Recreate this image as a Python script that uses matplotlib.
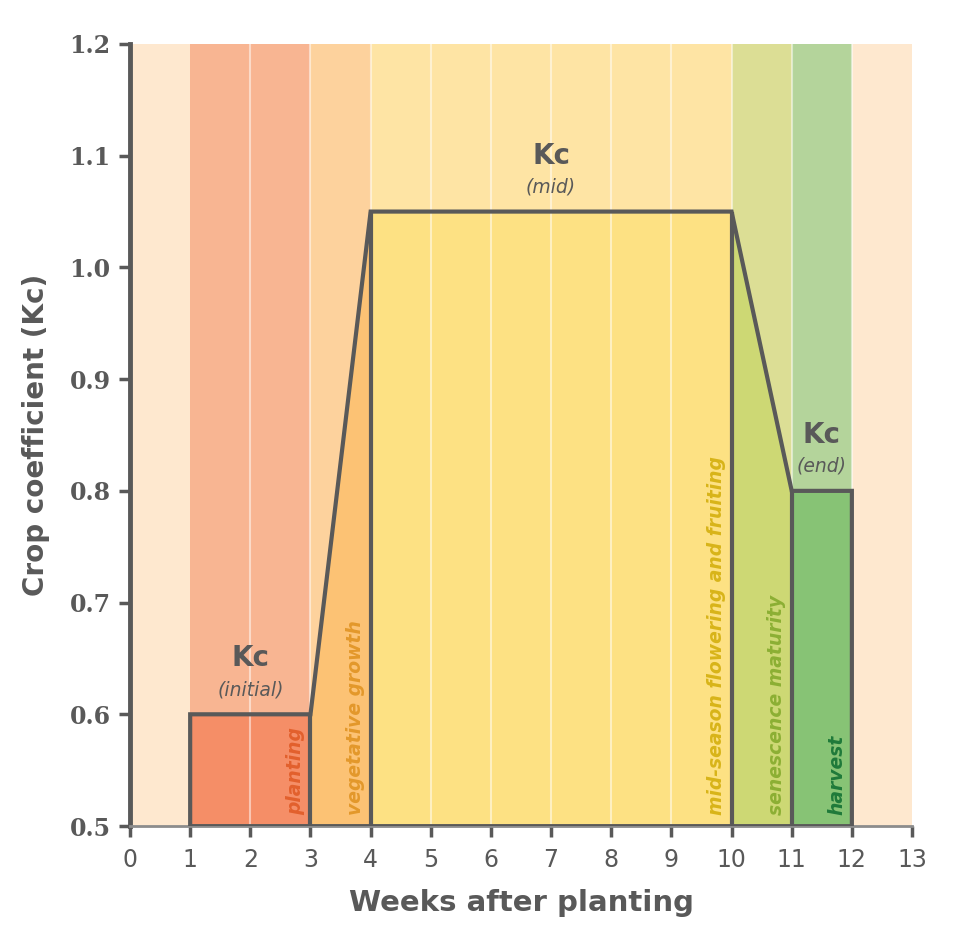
import numpy as np
import matplotlib
matplotlib.use('Agg')
import matplotlib.pyplot as plt
from matplotlib import font_manager

# pick a condensed face if one is installed
cond = None
for f in font_manager.fontManager.ttflist:
    if f.stretch in ('condensed', 'semi-condensed', 'extra-condensed') or \
            'Narrow' in f.name or 'Condensed' in f.name:
        cond = f.name
        break
FONT = ([cond] if cond else []) + ['DejaVu Sans']
plt.rcParams['font.family'] = FONT

# background colour of each week column (0..12)
band_colors = ['#FEE8CF', '#F8B592', '#F8B592', '#FDD29D', '#FEE4A4', '#FEE4A4',
               '#FEE4A4', '#FEE4A4', '#FEE4A4', '#FEE4A4', '#DCDE95', '#B4D49B',
               '#FEE8CF']
weeks = np.arange(13)

# Kc curve
kc_weeks = [1, 3, 4, 10, 11, 12]
kc_values = [0.60, 0.60, 1.05, 1.05, 0.80, 0.80]

# growth stages
stage_names = ['planting', 'vegetative growth', 'mid-season flowering and fruiting',
               'senescence maturity', 'harvest']
stage_fill = ['#F58E67', '#FCC274', '#FDE183', '#CDD874', '#87C375']
stage_text = ['#E2602D', '#E3982B', '#D8B419', '#8CAF34', '#1F7A3A']

kc_labels = ['(initial)', '(mid)', '(end)']
kc_label_x = [2, 7, 11.5]
kc_label_y = [0.60, 1.05, 0.80]

yticks = [0.5, 0.6, 0.7, 0.8, 0.9, 1.0, 1.1, 1.2]

dark = '#595959'

fig = plt.figure(figsize=(9.56, 9.36), dpi=100)
ax = fig.add_axes([0.136, 0.1175, 0.818, 0.8355])

ax.bar(weeks, 0.7, bottom=0.5, width=1, align='edge', color=band_colors,
       linewidth=0, zorder=1)

for i in range(len(stage_names)):
    x0, x1 = kc_weeks[i], kc_weeks[i + 1]
    y0, y1 = kc_values[i], kc_values[i + 1]
    ax.fill_between([x0, x1], 0.5, [y0, y1], color=stage_fill[i], linewidth=0, zorder=2)

# faint white week separators
ax.vlines(np.arange(2, 13), 0.5, 1.2, color='white', alpha=0.5, linewidth=1.5, zorder=3)

# outline
ox = [1] + kc_weeks + [12]
oy = [0.5] + kc_values + [0.5]
ax.plot(ox, oy, color=dark, linewidth=3, zorder=5, solid_joinstyle='miter')
ax.vlines(kc_weeks[1:-1], 0.5, kc_values[1:-1], color=dark, linewidth=3, zorder=5)
ax.hlines(0.5, 1, 12, color=dark, linewidth=3.5, zorder=6)

# stage labels
for i, name in enumerate(stage_names):
    ax.text(kc_weeks[i + 1] - 0.25, 0.51, name, rotation=90, ha='center', va='bottom',
            color=stage_text[i], fontsize=13.5, fontstyle='italic', fontweight='bold',
            zorder=7)

# Kc labels
for x, y, lab in zip(kc_label_x, kc_label_y, kc_labels):
    ax.text(x, y + 0.05, 'Kc', ha='center', va='center', color=dark, fontsize=20,
            fontweight='bold', zorder=7)
    ax.text(x, y + 0.022, lab, ha='center', va='center', color=dark, fontsize=13.5,
            fontstyle='italic', zorder=7)

ax.set_xlim(0, 13)
ax.set_ylim(0.5, 1.2)
ax.set_xticks(range(14))
ax.set_yticks(yticks)
ax.set_yticklabels(['%.1f' % v for v in yticks])
ax.tick_params(axis='x', direction='out', length=8, width=2.5, color=dark,
               labelcolor=dark, labelsize=17, pad=8)
ax.tick_params(axis='y', direction='out', length=8, width=2.5, color=dark,
               labelcolor=dark, pad=6)
for t in ax.get_yticklabels():
    t.set_fontfamily('DejaVu Serif')
    t.set_fontweight('bold')
    t.set_fontsize(17)

for s in ['top', 'right']:
    ax.spines[s].set_visible(False)
ax.spines['left'].set_color(dark)
ax.spines['left'].set_linewidth(3.5)
ax.spines['bottom'].set_color('#8C8C8C')
ax.spines['bottom'].set_linewidth(2)

ax.set_xlabel('Weeks after planting', fontsize=21, fontweight='bold', color=dark, labelpad=12)
ax.set_ylabel('Crop coefficient (Kc)', fontsize=20, fontweight='bold', color=dark, labelpad=14)

fig.savefig('out.png', dpi=100)
